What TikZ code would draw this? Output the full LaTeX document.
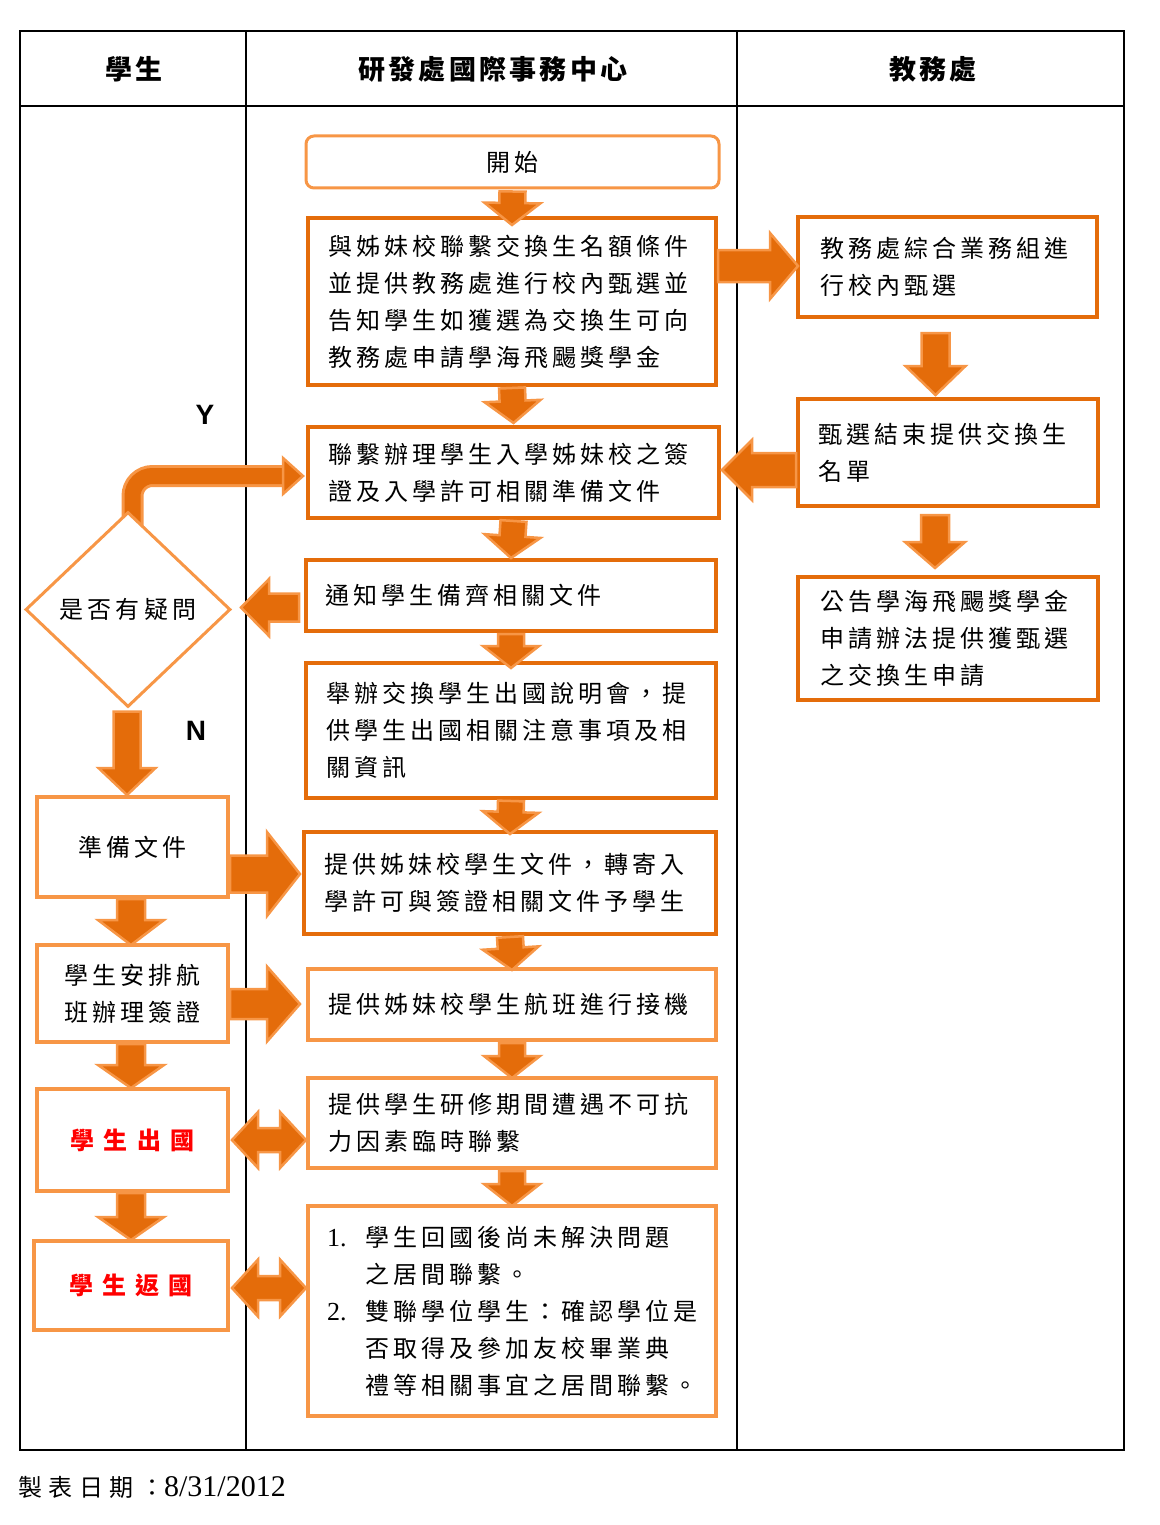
\documentclass[tikz,border=0pt]{standalone}
\usepackage{fontspec}
\setmainfont{Liberation Serif}
\newfontfamily\cjk[LetterSpace=17]{Noto Sans CJK TC}
\newfontfamily\cjkwide[LetterSpace=38]{Noto Sans CJK TC}
\newfontfamily\cjkhead[LetterSpace=12]{Noto Sans CJK TC}
\newfontfamily\cjkdate[LetterSpace=27]{Noto Sans CJK TC}
\newfontfamily\lsans{Liberation Sans}
\usetikzlibrary{calc,shapes.geometric}
\definecolor{darkor}{HTML}{E46C0A}
\definecolor{lightor}{HTML}{F79646}
\pgfdeclarelayer{tablelayer}
\pgfdeclarelayer{arrowlayer}
\pgfsetlayers{tablelayer,arrowlayer,main}
\tikzset{
  dbox/.style={draw=darkor, line width=4pt, fill=white, inner xsep=20pt, inner ysep=3pt,
    align=left, font=\cjk\fontsize{24}{37}\selectfont},
  lbox/.style={dbox, draw=lightor},
  barrow/.style n args={3}{fill=darkor, draw=lightor, line width=2.5pt, line join=miter,
    to path={
      ($(\tikztotarget)!#3!(\tikztostart)$) coordinate (bah)
      ($(\tikztostart)!#1!-90:(\tikztotarget)$) -- ($(bah)!#1!-90:(\tikztotarget)$)
      -- ($(bah)!#2!-90:(\tikztotarget)$) -- (\tikztotarget)
      -- ($(bah)!#2!90:(\tikztotarget)$) -- ($(bah)!#1!90:(\tikztotarget)$)
      -- ($(\tikztostart)!#1!90:(\tikztotarget)$) -- cycle
    }},
  dbarrow/.style n args={3}{fill=darkor, draw=lightor, line width=2.5pt, line join=miter,
    to path={
      ($(\tikztostart)!#3!(\tikztotarget)$) coordinate (bha)
      ($(\tikztotarget)!#3!(\tikztostart)$) coordinate (bhb)
      (\tikztostart) -- ($(bha)!#2!90:(\tikztotarget)$) -- ($(bha)!#1!90:(\tikztotarget)$)
      -- ($(bhb)!#1!-90:(\tikztostart)$) -- ($(bhb)!#2!-90:(\tikztostart)$)
      -- (\tikztotarget)
      -- ($(bhb)!#2!90:(\tikztostart)$) -- ($(bhb)!#1!90:(\tikztostart)$)
      -- ($(bha)!#1!-90:(\tikztotarget)$) -- ($(bha)!#2!-90:(\tikztotarget)$) -- cycle
    }},
  carr/.style={barrow={13pt}{28pt}{22pt}},
  headtxt/.style={font=\cjkhead\bfseries\fontsize{27}{29}\selectfont, inner sep=0pt},
  yn/.style={font=\lsans\bfseries\fontsize{28}{30}\selectfont, inner sep=0pt},
}
\begin{document}
\begin{tikzpicture}[x=1pt, y=-1pt]
\useasboundingbox (0,0) rectangle (1159,1525);

% table
\begin{pgfonlayer}{tablelayer}
\draw[line width=1.3pt] (20,31) rectangle (1124,1450);
\draw[line width=1.3pt] (20,106) -- (1124,106);
\draw[line width=1.1pt] (246,31) -- (246,1450);
\draw[line width=1.1pt] (737,31) -- (737,1450);
\end{pgfonlayer}

\node[headtxt] (h1) at (134,69) {學生};
\node[headtxt] (h2) at (493,69) {研發處國際事務中心};
\node[headtxt] (h3) at (933,69) {教務處};

% centre column
\node[lbox, rounded corners=8pt, line width=3pt, minimum width=413pt, minimum height=52pt, align=center] (start) at (512.5,162) {開始};
\node[dbox, minimum width=408pt, minimum height=167pt, text width=368pt] (b1) at (512,301.5)
  {與姊妹校聯繫交換生名額條件\\並提供教務處進行校內甄選並\\告知學生如獲選為交換生可向\\教務處申請學海飛颺獎學金};
\node[dbox, minimum width=411pt, minimum height=91pt, text width=371pt] (L) at (513.5,472.5)
  {聯繫辦理學生入學姊妹校之簽\\證及入學許可相關準備文件};
\node[dbox, inner xsep=19pt, minimum width=410pt, minimum height=71pt, text width=372pt] (T) at (511,595.5)
  {通知學生備齊相關文件};
\node[dbox, minimum width=410pt, minimum height=135pt, text width=370pt] (H) at (511,730.5)
  {舉辦交換學生出國說明會，提\\供學生出國相關注意事項及相\\關資訊};
\node[dbox, minimum width=412pt, minimum height=102pt, text width=372pt] (P1) at (510,883)
  {提供姊妹校學生文件，轉寄入\\學許可與簽證相關文件予學生};
\node[lbox, minimum width=408pt, minimum height=71pt, text width=368pt] (P2) at (512,1004.5)
  {提供姊妹校學生航班進行接機};
\node[lbox, minimum width=408pt, minimum height=90pt, text width=368pt] (P3) at (512,1123)
  {提供學生研修期間遭遇不可抗\\力因素臨時聯繫};
\node[lbox, inner xsep=19pt, minimum width=408pt, minimum height=210pt, text width=370pt] (P4) at (512,1311)
  {\makebox[38pt][l]{\rmfamily\fontsize{26}{37}\selectfont 1.}學生回國後尚未解決問題\\
   \hspace*{38pt}之居間聯繫。\\
   \makebox[38pt][l]{\rmfamily\fontsize{26}{37}\selectfont 2.}雙聯學位學生：確認學位是\\
   \hspace*{38pt}否取得及參加友校畢業典\\
   \hspace*{38pt}禮等相關事宜之居間聯繫。};

% right column
\node[dbox, inner xsep=22pt, minimum width=299pt, minimum height=100pt, text width=255pt] (j1) at (947.5,267)
  {教務處綜合業務組進\\行校內甄選};
\node[dbox, minimum width=300pt, minimum height=107pt, text width=260pt] (j2) at (948,452.5)
  {甄選結束提供交換生\\名單};
\node[dbox, inner xsep=22pt, minimum width=300pt, minimum height=123pt, text width=256pt] (j3) at (948,638.5)
  {公告學海飛颺獎學金\\申請辦法提供獲甄選\\之交換生申請};

% left column
\node[diamond, draw=lightor, line width=3pt, fill=white, minimum width=205pt, minimum height=195pt,
  inner sep=0pt, font=\cjk\fontsize{24}{30}\selectfont] (dia) at (128,609.5) {是否有疑問};
\node[lbox, align=center, minimum width=191pt, minimum height=100pt] (S1) at (132.5,847) {準備文件};
\node[lbox, align=center, minimum width=191pt, minimum height=97pt] (S2) at (132.5,993.5) {學生安排航\\班辦理簽證};
\node[lbox, align=center, minimum width=191pt, minimum height=102pt, text=red,
  font=\cjkwide\bfseries\fontsize{24}{30}\selectfont] (S3) at (132.5,1140) {學生出國};
\node[lbox, align=center, minimum width=194pt, minimum height=89pt, text=red,
  font=\cjkwide\bfseries\fontsize{24}{30}\selectfont] (S4) at (131,1285.5) {學生返國};

\node[yn] (ylab) at (205,415) {Y};
\node[yn] (nlab) at (196,731) {N};

\node[anchor=west, inner sep=0pt, font=\cjkdate\fontsize{24}{28}\selectfont] (date) at (18,1487)
  {製表日期：{\rmfamily\fontsize{30}{32}\selectfont 8/31/2012}};

% elbow arrow Y
\begin{pgfonlayer}{arrowlayer}
\draw[line width=3pt, draw=lightor, double=darkor, double distance=16pt, rounded corners=20pt]
  ($(dia.north)+(4.5,20)$) |- ($(L.west)+(-22,3.5)$);
\filldraw[fill=darkor, draw=lightor, line width=2.5pt, line join=miter]
  ($(L.west)+(-23,-14.5)$) -- ($(L.west)+(-3,3.5)$) -- ($(L.west)+(-23,21.5)$) -- cycle;
\end{pgfonlayer}

% centre column arrows
\draw[carr] ($(start.south)+(0,2)$) to ($(b1.north)+(0,9)$);
\draw[carr] ($(b1.south)+(0,1)$) to ($(L.north)+(0,-2)$);
\draw[carr] ($(L.south)+(0,1)$) to ($(T.north)+(0,0)$);
\draw[carr] ($(T.south)+(0,1)$) to ($(H.north)+(0,7)$);
\draw[carr] ($(H.south)+(0,1)$) to ($(P1.north)+(0,4)$);
\draw[carr] ($(P1.south)+(0,1)$) to ($(P2.north)+(0,3)$);
\draw[carr] ($(P2.south)+(0,1)$) to ($(P3.north)+(0,2)$);
\draw[carr] ($(P3.south)+(0,1)$) to ($(P4.north)+(0,2)$);

% right column arrows
\draw[barrow={16pt}{33pt}{28pt}] ($(b1.east |- j1.west)+(0,-1)$) to ($(j1.west)+(2,-1)$);
\draw[barrow={14pt}{30pt}{29pt}] ($(j1.south)+(-12,14)$) to ($(j1.south |- j2.north)+(-12,-2)$);
\draw[barrow={17pt}{30pt}{30pt}] ($(j2.west |- L.east)+(0,-2.5)$) to ($(L.east)+(1,-2.5)$);
\draw[barrow={14pt}{30pt}{26pt}] ($(j2.south)+(-13,7)$) to ($(j2.south |- j3.north)+(-13,-7)$);

% left column arrows
\draw[barrow={14pt}{28.5pt}{28pt}] ($(T.west)+(-5,12)$) to ($(dia.east)+(9,-2)$);
\draw[barrow={13.5pt}{28.5pt}{27pt}] ($(dia.south)+(-1,3)$) to ($(dia.south |- S1.north)+(-1,0)$);
\draw[barrow={14pt}{33pt}{25pt}] ($(S1.south)+(-1.5,0)$) to ($(S1.south |- S2.north)+(-1.5,2)$);
\draw[barrow={14pt}{33pt}{23pt}] ($(S2.south)+(-1.5,0)$) to ($(S2.south |- S3.north)+(-1.5,1)$);
\draw[barrow={14pt}{33pt}{23pt}] ($(S3.south)+(-1.5,0)$) to ($(S3.south |- S4.north)+(-1.5,1)$);

\draw[barrow={18.5pt}{42pt}{33pt}] ($(S1.east)+(0,27)$) to ($(P1.west)+(-2,-9)$);
\draw[barrow={15pt}{37.5pt}{33pt}] ($(S2.east)+(0,10.5)$) to ($(P2.west)+(-6,-0.5)$);
\draw[dbarrow={12pt}{28pt}{26pt}] ($(S3.east)+(2,0)$) to ($(S3.east -| P3.west)+(0,0)$);
\draw[dbarrow={12pt}{28.5pt}{26pt}] ($(S4.east)+(2,2.5)$) to ($(S4.east -| P4.west)+(0,2.5)$);
\end{tikzpicture}
\end{document}
